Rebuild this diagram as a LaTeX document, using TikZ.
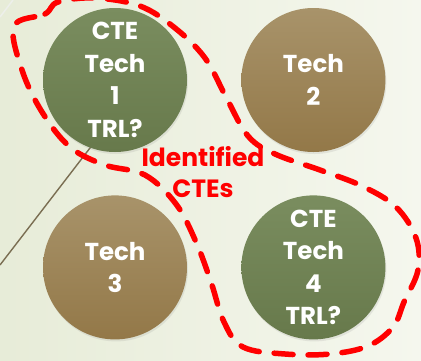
\documentclass[tikz,border=0pt]{standalone}
\usepackage{fontspec}
\setsansfont{Poppins}
\usetikzlibrary{positioning,shadows}
\definecolor{bgleft}{HTML}{E7ECD8}
\definecolor{bgright}{HTML}{F5F7EE}
\definecolor{greentop}{HTML}{7A8D5F}
\definecolor{greenbot}{HTML}{67794B}
\definecolor{browntop}{HTML}{A8936A}
\definecolor{brownbot}{HTML}{937848}
\definecolor{stem}{HTML}{7A6E52}
\tikzset{
    x=1pt, y=-1pt, node distance =43pt and 54pt,
    tech/.style ={circle, minimum size=144pt, inner sep=0pt, align=center,
        text=white, font=\sffamily\bfseries\fontsize{24.5}{32.5}\selectfont,
        shading=axis, drop shadow={opacity=0.15, shadow xshift=1pt, shadow yshift=-2pt}},
    cte/.style = {tech, top color=greentop, bottom color=greenbot},
    other/.style = {tech, top color=browntop, bottom color=brownbot},
    blob/.style = {red, line width=5.5pt, dash pattern=on 19pt off 15pt, line cap=round}
}
\begin{document}
\begin{tikzpicture}
    \useasboundingbox (0,0) rectangle (421,360);
    \shade[left color=bgleft, right color=bgright] (0,0) rectangle (421,360);
    \draw[bgleft!85!black!30, line width=1.5pt] (0,17) -- (13,0);
    \draw[stem, line width=1.4pt] (0,265) -- (110,122);

    \node[cte] (t1) at (115,80) {CTE\\Tech\\1\\TRL?};
    \node[other] (t2) [right=of t1] {Tech\\2};
    \node[other] (t3) [below=of t1] {Tech\\3};
    \node[cte] (t4) [below=of t2] {CTE\\Tech\\4\\TRL?};

    % dashed outline round the CTEs
    \draw[blob] plot[smooth cycle, tension=0.6] coordinates {
        (14,26) (45,14) (58,2) (95,-2) (140,6) (175,28) (205,58) (226,97)
        (248,136) (275,154) (320,170) (362,186) (396,207) (416,238) (418,270)
        (404,302) (393,327) (368,346) (330,354) (285,354) (243,347) (224,322)
        (211,282) (196,242) (176,204) (145,175) (105,165) (70,147) (42,112)
        (22,70)};

    \node[red, font=\sffamily\bfseries\fontsize{25}{31}\selectfont, align=center]
        (lbl) at (203,172) {Identified\\CTEs};
\end{tikzpicture}
\end{document}
